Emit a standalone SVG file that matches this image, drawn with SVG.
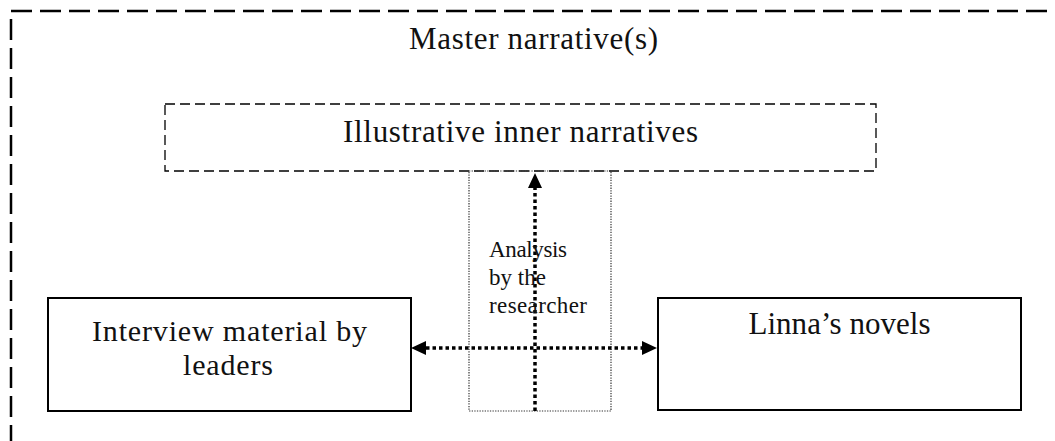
<svg xmlns="http://www.w3.org/2000/svg" width="1055" height="441" viewBox="0 0 1055 441">
  <style>
    .label { font-family: "Liberation Serif", "Times New Roman", serif; fill: #111; }
    .big { font-size: 31px; }
    .mid { font-size: 30px; }
    .small { font-size: 23px; }
    .frame { fill: none; stroke: #000; stroke-width: 2.5; stroke-dasharray: 21 8; }
    .inner { fill: none; stroke: #000; stroke-width: 1.3; stroke-dasharray: 10 5; }
    .box { fill: #fff; stroke: #000; stroke-width: 2; }
    .zone { fill: none; stroke: #333; stroke-width: 1.2; stroke-dasharray: 1.3 1.3; }
    .flow { fill: none; stroke: #000; stroke-width: 3.5; stroke-dasharray: 3.5 3; }
  </style>
  <defs>
    <marker id="head" markerUnits="userSpaceOnUse" markerWidth="15" markerHeight="14" refX="0" refY="7" orient="auto-start-reverse">
      <path d="M0,0 L15,7 L0,14 Z" fill="#000"/>
    </marker>
  </defs>
  <rect width="1055" height="441" fill="#fff"/>

  <!-- outer frame: master narrative(s) -->
  <g id="master">
    <line class="frame" x1="11" y1="11" x2="1055" y2="11"/>
    <line class="frame" x1="11" y1="19" x2="11" y2="441"/>
    <text class="label big" x="533.5" y="49" text-anchor="middle" textLength="249">Master narrative(s)</text>
  </g>

  <!-- illustrative inner narratives -->
  <g id="inner">
    <rect class="inner" x="165" y="104" width="711" height="67"/>
    <text class="label big" x="520.5" y="142" text-anchor="middle" textLength="355">Illustrative inner narratives</text>
  </g>

  <!-- analysis zone -->
  <g id="analysis">
    <rect class="zone" x="469" y="171" width="142" height="240"/>
  </g>

  <!-- source boxes -->
  <g id="interviews">
    <rect class="box" x="48" y="298" width="363" height="113"/>
    <text class="label mid" x="229.5" y="341" text-anchor="middle" textLength="275">Interview material by</text>
    <text class="label mid" x="228" y="374.5" text-anchor="middle" textLength="90">leaders</text>
  </g>
  <g id="novels">
    <rect class="box" x="658" y="298" width="363" height="112"/>
    <text class="label big" x="839.5" y="334" text-anchor="middle" textLength="182">Linna’s novels</text>
  </g>

  <!-- connectors -->
  <g id="connectors">
    <line class="flow" x1="535" y1="411" x2="535" y2="188" marker-end="url(#head)"/>
    <line class="flow" x1="426" y1="348" x2="642" y2="348" marker-start="url(#head)" marker-end="url(#head)"/>
  </g>

  <g id="analysis-label">
    <text class="label small" x="489" y="257" textLength="78">Analysis</text>
    <text class="label small" x="489" y="285" textLength="57">by the</text>
    <text class="label small" x="489" y="313" textLength="98">researcher</text>
  </g>
</svg>
